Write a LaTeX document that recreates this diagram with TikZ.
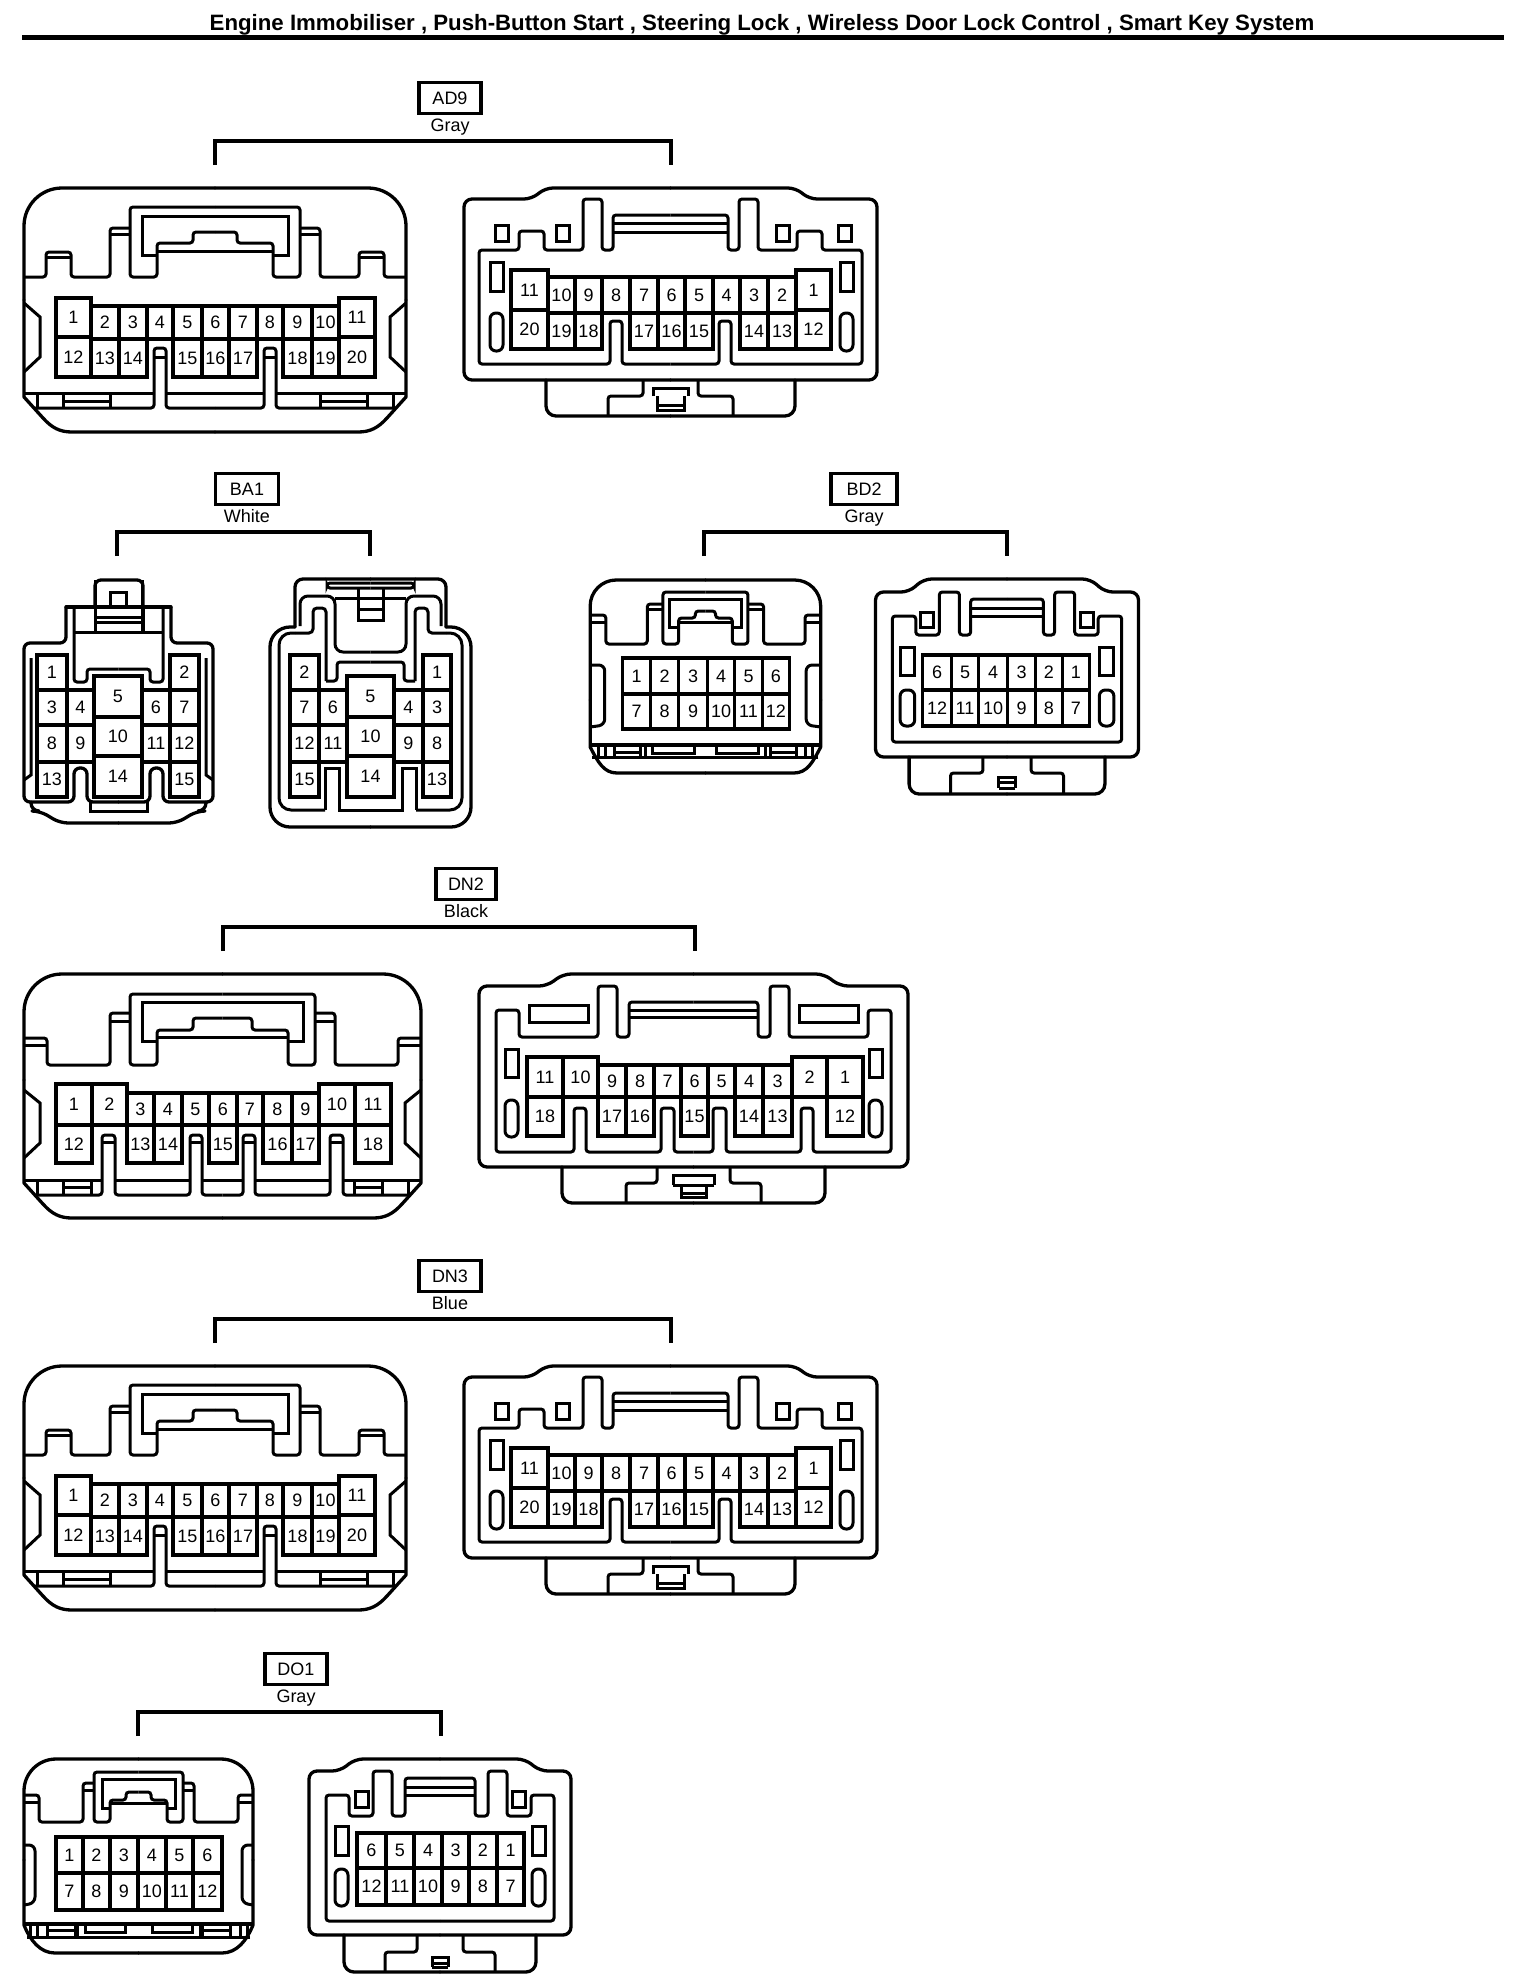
\documentclass[tikz,border=0pt]{standalone}
\usepackage{fontspec}
\setmainfont{Liberation Sans}
\newcounter{nn}
\tikzset{
 ol/.style={line width=1.65pt,line join=round,line cap=round},
 ln/.style={line width=1.5pt,line join=miter,line cap=butt},
 cl/.style={line width=1.6pt,line join=miter},
 num/.style={inner sep=0pt,font=\fontsize{9}{9}\selectfont},
 lbl/.style={draw,line width=1.9pt,inner sep=0pt,font=\fontsize{9}{9}\selectfont,minimum height=15.5pt},
 colr/.style={inner sep=0pt,anchor=base,font=\fontsize{9}{9}\selectfont},
 br/.style={line width=2pt,line join=miter},
 rc/.style={rounded corners=1.5pt},
}
\newcommand\mirrored[2]{#2\begin{scope}[shift={(#1,0)},xscale=-1]#2\end{scope}}
% \cellrow{y1}{y2}{x1/x2/label,...}
\newcommand\cellrow[3]{\foreach \a/\b/\t in {#3}{%
  \draw[cl] (\a,#1) rectangle (\b,#2);
  \stepcounter{nn}\pgfmathsetmacro\mx{(\a+\b)/2}\pgfmathsetmacro\my{(#1+#2)/2}
  \node[num] (n\thenn) at (\mx,\my) {\t};}}
\newcommand\conlabel[8]{% name cx ytop width text colour xl xr
  \node[lbl,minimum width=#4*0.5pt] (#1box) at (#2,#3-90) {#5};
  \node[colr] (#1col) at (#2,#3-56.5) {#6};
  \coordinate (#1l) at (#7,#3-23);
  \coordinate (#1r) at (#8,#3-23);
  \coordinate (#1t) at (#2,#3-47);
  \draw[br] (#1l) -- (#1l|-#1t) -- (#1r|-#1t) -- (#1r);}
\newcommand\slotbox[4]{\draw[ln] (#1,#2) rectangle (#3,#4);}
\newcommand\ovalbox[4]{\draw[ln,rounded corners=3pt] (#1,#2) rectangle (#3,#4);}
% ---------- 20-pin front
\newcommand\frontA{%
 \mirrored{430}{%
  \draw[ol,rounded corners=19pt] (215,188) -- (24,188) -- (24,300);
  \draw[ol] (24,300)--(24,397)--(43,418) .. controls (52,428) and (60,432) .. (72,432) -- (215,432);
  \draw[ln,rc] (24,277)--(46,277)--(46,252)--(71,252)--(71,277)--(110,277)--(110,228)--(130,228);
  \draw[ln] (47,257)--(71,257) (111,234)--(130,234);
  \draw[ln,rc] (215,207)--(130,207)--(130,277)--(157,277)--(157,243)--(193,243)--(193,232)--(215,232);
  \draw[ln] (215,216)--(142,216)--(142,255)--(157,255) (157,251)--(215,251);
  \draw[ln] (24,303)--(40,317)--(40,357)--(24,372);
  \draw[ln] (24,393)--(154,393) (166,393)--(215,393);
  \draw[ln,rc] (35,408)--(154,408)--(154,348)--(166,348)--(166,408)--(215,408);
  \draw[ln] (154,357)--(166,357);
  \draw[ln] (37,393)--(37,408) (63,393)--(63,408) (110,393)--(110,408) (63,401)--(110,401);
 }
 \cellrow{298}{337}{56/91/1,339/375/11}
 \cellrow{337}{377}{56/91/12,339/375/20}
 \cellrow{306}{339}{91/119/2,119/147/3,147/173/4,173/202/5,202/229/6,229/257/7,257/283/8,283/312/9,312/339/10}
 \cellrow{339}{377}{91/119/13,119/147/14,173/202/15,202/229/16,229/257/17,283/312/18,312/339/19}
}
% ---------- 20-pin rear
\newcommand\rearA{%
 \mirrored{1341}{%
  \draw[ol,rounded corners=4pt] (670.5,188)--(545,188)--(532,199)--(464,199)--(464,380)--(670.5,380);
  \draw[ol,rounded corners=5pt] (546,380)--(546,416)--(670.5,416);
  \draw[ln,rc] (608,416)--(608,396)--(643,396)--(643,380);
  \draw[ln,rc] (670.5,215)--(613,215)--(613,250)--(602,250)--(602,199)--(583,199)--(583,250)--(544,250)--(544,231)--(519,231)--(519,250)--(479,250)--(479,364)--(610,364)--(610,321)--(622,321)--(622,364)--(670.5,364);
  \draw[ln] (613,223)--(670.5,223) (613,232)--(670.5,232);
  \draw[ln] (653,396)--(653,388)--(670.5,388) (657,396)--(657,410)--(670.5,410) (657,405)--(670.5,405);
 }
 \slotbox{495}{225}{508}{241}\slotbox{556}{225}{569}{241}
 \slotbox{776}{225}{789}{241}\slotbox{838}{225}{851}{241}
 \slotbox{490}{262}{503}{291}\ovalbox{490}{313}{503}{351}
 \slotbox{840}{262}{853}{291}\ovalbox{840}{313}{853}{351}
 \cellrow{270}{310}{511/548/11,796/831/1}
 \cellrow{310}{349}{511/548/20,796/831/12}
 \cellrow{277}{313}{548/575/10,575/602/9,602/630/8,630/658/7,658/685/6,685/713/5,713/740/4,740/768/3,768/796/2}
 \cellrow{313}{349}{548/575/19,575/602/18,630/658/17,658/685/16,685/713/15,740/768/14,768/796/13}
}
\begin{document}
\begin{tikzpicture}[x=0.5pt,y=-0.5pt]
\useasboundingbox (0,0) rectangle (1520,1986);
\fill[white] (0,0) rectangle (1520,1986);
% title
\node[inner sep=0pt,anchor=base,font=\bfseries\fontsize{11.12}{11.12}\selectfont] (title) at (762,31) {Engine Immobiliser , Push-Button Start , Steering Lock , Wireless Door Lock Control , Smart Key System};
\coordinate (ruleL) at (22,37.5); \coordinate (ruleR) at (1504,37.5);
\draw[line width=2.5pt] (ruleL) -- (ruleR);
% AD9
\conlabel{ad}{450}{188}{62}{AD9}{Gray}{215}{671}
\frontA \rearA
% DN3
\begin{scope}[shift={(0,1178)}]
\conlabel{dnt}{450}{188}{62}{DN3}{Blue}{215}{671}
\frontA \rearA
\end{scope}
% BA1
\conlabel{ba}{247}{579}{63}{BA1}{White}{117}{370}
\mirrored{237}{%
 \draw[ol,rounded corners=3pt] (66,607)--(66,643)--(24,643)--(24,802)--(74,802)--(74,768)--(87,768)--(87,802)--(118.5,802);
 \draw[ol,rounded corners=4pt] (31,802)--(31,811)--(40,811)--(60,823)--(118.5,823);
 \draw[ol] (66,607)--(118.5,607);
 \draw[ln] (31,658)--(31,775)--(24,780);
 \draw[ln,rc] (74,607)--(74,682)--(87,682)--(87,669)--(118.5,669);
 \draw[ln] (74,632)--(118.5,632);
 \draw[ln] (95,580)--(95,632);
 \draw[ln] (90,802)--(90,811)--(118.5,811);
}
\draw[ol,rounded corners=3pt] (95,607)--(95,580)--(143,580)--(143,607);
\draw[ln] (143,607)--(143,632) (95,617)--(143,617) (95,622)--(143,622);
\draw[ln] (110,607)--(110,592)--(126,592)--(126,607);
\cellrow{655}{690}{37/67/1,170/199/2}
\cellrow{690}{725}{37/67/3,67/94/4,142/170/6,170/199/7}
\cellrow{725}{762}{37/67/8,67/94/9,142/170/11,170/199/12}
\cellrow{762}{797}{37/67/13,170/199/15}
\cellrow{676}{717}{94/142/5}\cellrow{717}{756}{94/142/10}\cellrow{756}{797}{94/142/14}
\draw[ln] (67,762)--(94,762) (142,762)--(170,762);
% BA1 right
\mirrored{741}{%
 \draw[ol,rounded corners=10pt] (370.5,827)--(270,827)--(270,627)--(295,627);
 \draw[ol,rounded corners=4pt] (295,627)--(295,579)--(370.5,579);
 \draw[ln,rounded corners=2pt] (326,681)--(326,608)--(313,608)--(313,633)--(295,633);
 \draw[ln,rounded corners=6pt] (295,633)--(279,633)--(279,810)--(325,810);
 \draw[ln] (325,810)--(325,768)--(339,768)--(339,810)--(370.5,810);
 \draw[ln,rc] (326,681)--(337,681)--(337,662)--(370.5,662);
 \draw[ln,rounded corners=4pt] (300,626)--(300,596)--(335,596)--(335,652)--(370.5,652);
 \draw[ln] (335,598)--(370.5,598);
 \draw[ln,rc] (370.5,583)--(327,583)--(327,588)--(370.5,588);
 \draw[ln] (358,588)--(358,620)--(370.5,620) (358,609)--(370.5,609);
}
\cellrow{655}{690}{290/319/2,423/451/1}
\cellrow{690}{725}{290/319/7,319/347/6,394/423/4,423/451/3}
\cellrow{725}{762}{290/319/12,319/347/11,394/423/9,423/451/8}
\cellrow{762}{797}{290/319/15,423/451/13}
\cellrow{676}{717}{347/394/5}\cellrow{717}{756}{347/394/10}\cellrow{756}{797}{347/394/14}
\draw[ln] (319,762)--(347,762) (394,762)--(423,762);
% BD2
\conlabel{bd}{864}{579}{66}{BD2}{Gray}{704}{1007}
\begin{scope}[shift={(-67.8,0)},xscale=1.119]
\mirrored{1382}{%
 \draw[ol,rounded corners=13pt] (691,580)--(588,580)--(588,700);
 \draw[ol] (588,700)--(588,747) .. controls (595,762) and (600,773) .. (612,773) -- (691,773);
 \draw[ln,rc] (588,615)--(602,615)--(602,644)--(639,644)--(639,604)--(653,604);
 \draw[ln] (588,622)--(602,622) (640,609)--(653,609);
 \draw[ln,rc] (691,592)--(653,592)--(653,644)--(667,644)--(667,618)--(682,618)--(682,611)--(691,611);
 \draw[ln] (691,599)--(659,599)--(659,627)--(667,627) (667,622)--(691,622);
 \draw[ln,rounded corners=3pt] (588,665)--(601,665)--(601,725)--(588,727);
 \draw[line width=2.2pt] (589,745)--(691,745);
 \draw[ln] (590,757)--(691,757);
 \draw[ln] (595,745)--(595,757) (602,745)--(602,757) (610,745)--(610,757) (633,745)--(633,757) (610,752)--(633,752) (637,745)--(637,757);
 \draw[ln] (644,745)--(644,753)--(681,753)--(681,745);
}
\cellrow{658}{694}{617/642/1,642/667/2,667/693/3,693/717/4,717/742/5,742/766/6}
\cellrow{694}{729}{617/642/7,642/667/8,667/693/9,693/717/10,717/742/11,742/766/12}
\begin{scope}[shift={(-4,0)}]
\mirrored{1929}{%
 \draw[ol,rounded corners=4pt] (964.5,579)--(890,579)--(877,592)--(847,592)--(847,757)--(964.5,757);
 \draw[ol,rounded corners=5pt] (877,757)--(877,794)--(964.5,794);
 \draw[ln,rc] (914,794)--(914,773)--(943,773)--(943,757);
 \draw[ln,rc] (964.5,599)--(932,599)--(932,635)--(922,635)--(922,592)--(904,592)--(904,635)--(883,635)--(883,616)--(862,616)--(862,742)--(964.5,742);
 \draw[ln] (932,608)--(964.5,608) (932,616)--(964.5,616);
 \slotbox{887}{612}{899}{627}\slotbox{869}{647}{882}{675}\ovalbox{869}{690}{882}{726}
 \draw[ln] (957,788)--(957,777)--(964.5,777) (957,788)--(964.5,788) (957,782)--(964.5,782);
}
\cellrow{655}{690}{889/915/6,915/939/5,939/965/4,965/990/3,990/1014/2,1014/1038/1}
\cellrow{690}{726}{889/915/12,915/939/11,939/965/10,965/990/9,990/1014/8,1014/1038/7}
\end{scope}
\end{scope}
% DN2
\conlabel{dn}{466}{974}{60}{DN2}{Black}{223}{695}
\mirrored{445}{%
 \draw[ol,rounded corners=19pt] (222.5,974)--(24,974)--(24,1080);
 \draw[ol] (24,1080)--(24,1183)--(43,1204) .. controls (52,1214) and (60,1218) .. (72,1218) -- (222.5,1218);
 \draw[ln,rc] (24,1038)--(47,1038)--(47,1065)--(110,1065)--(110,1013)--(130,1013);
 \draw[ln] (24,1045)--(46,1045) (111,1021)--(130,1021);
 \draw[ln,rc] (222.5,994)--(130,994)--(130,1065)--(157,1065)--(157,1030)--(193,1030)--(193,1018)--(222.5,1018);
 \draw[ln] (222.5,1002)--(142,1002)--(142,1041)--(157,1041) (157,1037)--(222.5,1037);
 \draw[ln] (24,1090)--(40,1103)--(40,1143)--(24,1158);
 \draw[ln] (24,1180)--(102,1180) (115,1180)--(190,1180) (202,1180)--(222.5,1180);
 \draw[ln,rc] (35,1195)--(102,1195)--(102,1135)--(115,1135)--(115,1195)--(190,1195)--(190,1135)--(202,1135)--(202,1195)--(222.5,1195);
 \draw[ln] (102,1142)--(115,1142) (190,1142)--(202,1142);
 \draw[ln] (37,1180)--(37,1195) (63,1180)--(63,1195) (91,1180)--(91,1195) (63,1187)--(91,1187);
}
\cellrow{1084}{1125}{56/92/1,92/127/2,319/355/10,355/391/11}
\cellrow{1125}{1163}{56/92/12,355/391/18}
\cellrow{1093}{1125}{127/154/3,154/182/4,182/209/5,209/237/6,237/263/7,263/292/8,292/319/9}
\cellrow{1125}{1163}{127/154/13,154/182/14,209/237/15,263/292/16,292/319/17}
\draw[cl] (92,1125)--(127,1125) (182,1125)--(209,1125) (237,1125)--(263,1125) (319,1125)--(355,1125);
% DN2 right
\mirrored{1387}{%
 \draw[ol,rounded corners=4pt] (693.5,974)--(563,974)--(547,986)--(479,986)--(479,1167)--(693.5,1167);
 \draw[ol,rounded corners=5pt] (562,1167)--(562,1203)--(693.5,1203);
 \draw[ln,rc] (626,1203)--(626,1183)--(657,1183)--(657,1167);
 \draw[ln,rc] (693.5,1002)--(629,1002)--(629,1037)--(617,1037)--(617,986)--(598,986)--(598,1037)--(519,1037)--(519,1010)--(496,1010)--(496,1152)--(574,1152)--(574,1108)--(586,1108)--(586,1152)--(661,1152)--(661,1108)--(674,1108)--(674,1152)--(693.5,1152);
 \draw[ln] (629,1010)--(693.5,1010) (629,1017)--(693.5,1017);
 \slotbox{529}{1005}{588}{1022}\slotbox{505}{1049}{518}{1077}\ovalbox{505}{1100}{518}{1137}
 \draw[ln] (673,1185)--(673,1175)--(693.5,1175) (681,1185)--(681,1197)--(693.5,1197) (673,1185)--(693.5,1185) (681,1193)--(693.5,1193);
}
\cellrow{1057}{1097}{527/563/11,563/598/10,792/827/2,827/863/1}
\cellrow{1097}{1136}{527/563/18,827/863/12}
\cellrow{1065}{1097}{598/626/9,626/654/8,654/681/7,681/708/6,708/735/5,735/763/4,763/792/3}
\cellrow{1097}{1136}{598/626/17,626/654/16,681/708/15,735/763/14,763/792/13}
\draw[cl] (563,1097)--(598,1097) (654,1097)--(681,1097) (708,1097)--(735,1097) (792,1097)--(827,1097);
% DO1
\conlabel{do}{296}{1759}{62}{DO1}{Gray}{138}{441}
\mirrored{277}{%
 \draw[ol,rounded corners=16pt] (138.5,1759)--(24,1759)--(24,1860);
 \draw[ol] (24,1860)--(24,1925) .. controls (30,1940) and (40,1953) .. (55,1953) -- (138.5,1953);
 \draw[ln,rc] (24,1795)--(39,1795)--(39,1822)--(83,1822)--(83,1783)--(94,1783);
 \draw[ln] (24,1802)--(39,1802) (84,1790)--(94,1790);
 \draw[ln,rc] (138.5,1772)--(94,1772)--(94,1822)--(110,1822)--(110,1800)--(126,1800)--(126,1792)--(138.5,1792);
 \draw[ln] (138.5,1779)--(102,1779)--(102,1808)--(110,1808) (110,1803)--(138.5,1803);
 \draw[ln,rounded corners=3pt] (24,1845)--(35,1845)--(35,1903)--(24,1905);
 \draw[line width=2.2pt] (25,1924)--(138.5,1924);
 \draw[ln] (27,1937)--(138.5,1937);
 \draw[ln] (30,1924)--(30,1937) (37,1924)--(37,1937) (47,1924)--(47,1937) (75,1924)--(75,1937) (47,1930)--(75,1930) (77,1924)--(77,1937);
 \draw[ln] (85,1924)--(85,1932)--(125,1932)--(125,1924);
}
\cellrow{1837}{1873}{56/83/1,83/110/2,110/138/3,138/166/4,166/193/5,193/222/6}
\cellrow{1873}{1910}{56/83/7,83/110/8,110/138/9,138/166/10,166/193/11,193/222/12}
\mirrored{880}{%
 \draw[ol,rounded corners=4pt] (440,1759)--(355,1759)--(340,1771)--(309,1771)--(309,1935)--(440,1935);
 \draw[ol,rounded corners=5pt] (344,1935)--(344,1972)--(440,1972);
 \draw[ln,rc] (385,1972)--(385,1952)--(417,1952)--(417,1935);
 \draw[ln,rc] (440,1778)--(405,1778)--(405,1816)--(392,1816)--(392,1771)--(373,1771)--(373,1816)--(349,1816)--(349,1795)--(326,1795)--(326,1921)--(440,1921);
 \draw[ln] (405,1787)--(440,1787) (405,1795)--(440,1795);
 \slotbox{355}{1791}{368}{1807}\slotbox{335}{1826}{348}{1855}\ovalbox{335}{1869}{348}{1906}
 \draw[ln] (432,1967)--(432,1957)--(440,1957) (432,1967)--(440,1967) (432,1963)--(440,1963);
}
\cellrow{1833}{1868}{357/386/6,386/414/5,414/442/4,442/469/3,469/497/2,497/524/1}
\cellrow{1868}{1905}{357/386/12,386/414/11,414/442/10,442/469/9,469/497/8,497/524/7}
\end{tikzpicture}
\end{document}
